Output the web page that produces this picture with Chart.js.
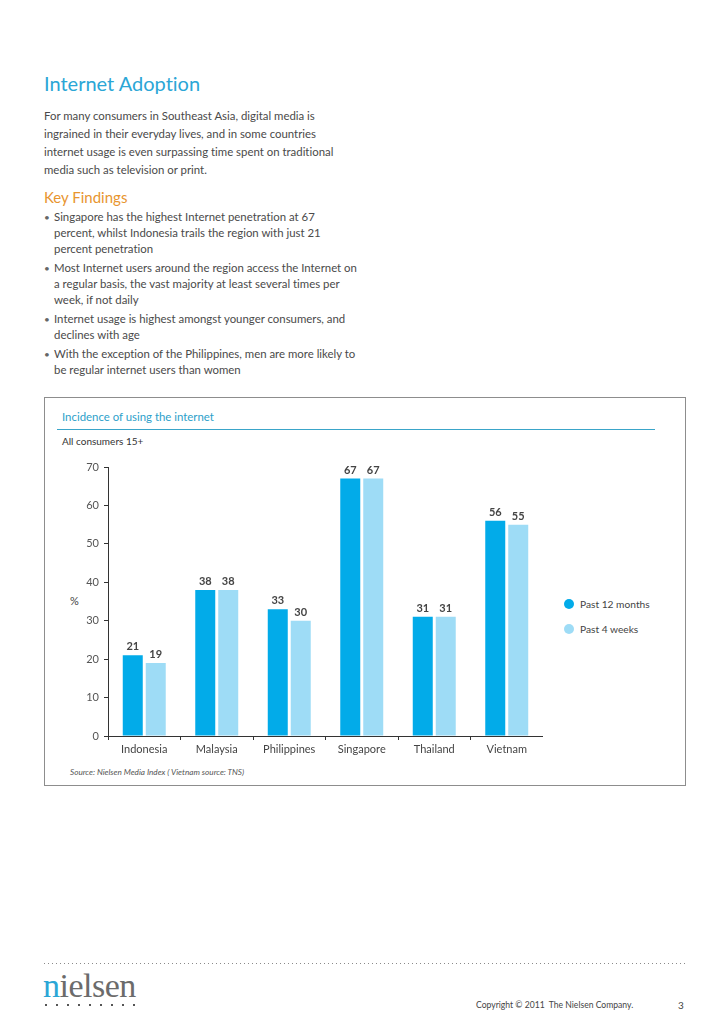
<!DOCTYPE html>
<html>
<head>
<meta charset="utf-8">
<script src="https://cdn.jsdelivr.net/npm/chart.js@4.4.0/dist/chart.umd.min.js"></script>
<style>
  html, body { margin:0; padding:0; background:#fff; }
  body { width:728px; height:1030px; position:relative; overflow:hidden; font-family: Lato, "Open Sans", sans-serif; color:#4a4a4a; font-variant-ligatures:none; }
  .abs { position:absolute; white-space:nowrap; }
  #title { left:44px; top:70px; font-size:20px; line-height:26px; color:#2ba6d6; }
  #intro { left:44px; top:107px; font-size:11.4px; line-height:18px; }
  #kf { left:44px; top:187px; font-size:15px; line-height:20px; color:#e8952f; }
  #bullets { left:44px; top:209px; font-size:11.4px; line-height:16px; margin:0; padding:0; list-style:none; }
  #bullets li { position:relative; padding-left:10px; margin-bottom:3px; }
  #bullets li:before { content:"•"; position:absolute; left:0; top:0; color:#666; font-size:10px; }
  #box { left:44px; top:397px; width:640px; height:387px; border:1px solid #8d8d8d; }
  #ctitle { left:62px; top:409px; font-size:11.4px; line-height:16px; color:#2d9fca; }
  #cline { left:57px; top:429px; width:598px; height:0; border-top:1.5px solid #3aa5c9; }
  #csub { left:62px; top:434px; font-size:10px; line-height:14px; color:#333; }
  #pct { left:70px; top:594px; font-size:11px; line-height:14px; color:#444; }
  #legend { left:563px; top:597px; font-size:10.2px; color:#444; }
  #legend div { height:25px; line-height:14px; position:relative; padding-left:17px; }
  #legend span.dot { position:absolute; left:1px; top:2px; width:10px; height:10px; border-radius:50%; }
  #source { left:70px; top:766px; font-size:8.2px; line-height:12px; font-style:italic; color:#555; }
  #chartwrap { left:44px; top:450px; width:499px; height:315px; }
  #dots { left:44px; top:963px; width:642px; height:1px; background:repeating-linear-gradient(to right,#8a8a8a 0 1px,transparent 1px 4px); }
  #logo { left:43px; top:967px; font-family:"Liberation Serif","DejaVu Serif",serif; font-size:34px; line-height:38px; color:#6b6b6b; letter-spacing:-0.5px; }
  #logo b { font-weight:normal; color:#2ba6d6; }
  #logodots { left:45px; top:1004px; width:92px; height:2px; background:repeating-linear-gradient(to right,#555 0 2px,transparent 2px 11px); }
  #copy { left:476px; top:999px; font-size:8.6px; line-height:12px; color:#444; }
  #page { left:678px; top:999px; font-size:10px; line-height:12px; color:#444; }
</style>
</head>
<body>
<div id="title" class="abs">Internet Adoption</div>
<div id="intro" class="abs">For many consumers in Southeast Asia, digital media is<br>ingrained in their everyday lives, and in some countries<br>internet usage is even surpassing time spent on traditional<br>media such as television or print.</div>
<div id="kf" class="abs">Key Findings</div>
<ul id="bullets" class="abs">
  <li>Singapore has the highest Internet penetration at 67<br>percent, whilst Indonesia trails the region with just 21<br>percent penetration</li>
  <li>Most Internet users around the region access the Internet on<br>a regular basis, the vast majority at least several times per<br>week, if not daily</li>
  <li>Internet usage is highest amongst younger consumers, and<br>declines with age</li>
  <li>With the exception of the Philippines, men are more likely to<br>be regular internet users than women</li>
</ul>

<div id="box" class="abs"></div>
<div id="ctitle" class="abs">Incidence of using the internet</div>
<div id="cline" class="abs"></div>
<div id="csub" class="abs">All consumers 15+</div>
<div id="pct" class="abs">%</div>
<div id="chartwrap" class="abs"><canvas id="c" width="499" height="315"></canvas></div>
<div id="legend" class="abs"></div>
<div id="source" class="abs">Source: Nielsen Media Index ( Vietnam source: TNS)</div>

<div id="dots" class="abs"></div>
<div id="logo" class="abs"><b>n</b>ielsen</div>
<div id="logodots" class="abs"></div>
<div id="copy" class="abs">Copyright © 2011 &nbsp;The Nielsen Company.</div>
<div id="page" class="abs">3</div>

<script>
const categories = ["Indonesia", "Malaysia", "Philippines", "Singapore", "Thailand", "Vietnam"];
const past12Months = [21, 38, 33, 67, 31, 56];
const past4Weeks = [19, 38, 30, 67, 31, 55];
const seriesLabels = ["Past 12 months", "Past 4 weeks"];
const seriesColors = ["#02abe9", "#9edcf6"];
const yTicks = [0, 10, 20, 30, 40, 50, 60, 70];

const valueLabels = {
  id: 'valueLabels',
  afterDatasetsDraw(chart) {
    const ctx = chart.ctx;
    ctx.save();
    ctx.font = 'bold 11px Lato, "Open Sans", sans-serif';
    ctx.fillStyle = '#444';
    ctx.textAlign = 'center';
    ctx.textBaseline = 'bottom';
    chart.data.datasets.forEach((ds, i) => {
      chart.getDatasetMeta(i).data.forEach((bar, j) => {
        ctx.fillText(String(ds.data[j]), bar.x, bar.y - 3);
      });
    });
    ctx.restore();
  }
};

const chart = new Chart(document.getElementById('c'), {
  type: 'bar',
  data: {
    labels: categories,
    datasets: [
      { label: seriesLabels[0], data: past12Months, backgroundColor: seriesColors[0], categoryPercentage: 0.634, barPercentage: 0.87 },
      { label: seriesLabels[1], data: past4Weeks, backgroundColor: seriesColors[1], categoryPercentage: 0.634, barPercentage: 0.87 }
    ]
  },
  options: {
    responsive: false,
    animation: false,
    devicePixelRatio: 1,
    layout: { padding: { top: 17, right: 0, bottom: 0, left: 0 } },
    plugins: { legend: { display: false }, tooltip: { enabled: false } },
    scales: {
      x: {
        afterFit(s) { s.height = 29; s.paddingRight = 0; s.paddingLeft = 0; },
        grid: { display: true, offset: true, drawOnChartArea: false, drawTicks: true, tickLength: 4, color: '#333' },
        border: { display: true, color: '#333', width: 1 },
        ticks: { color: '#444', font: { size: 11, family: 'Lato, "Open Sans", sans-serif' }, padding: 3 }
      },
      y: {
        min: 0, max: 70,
        afterFit(s) { s.width = 64; },
        afterBuildTicks(s) { s.ticks = yTicks.map(v => ({ value: v })); },
        grid: { display: true, drawOnChartArea: false, drawTicks: true, tickLength: 4, color: '#333' },
        border: { display: true, color: '#333', width: 1 },
        ticks: { color: '#555', font: { size: 11, family: 'Lato, "Open Sans", sans-serif' }, padding: 5 }
      }
    }
  },
  plugins: [valueLabels]
});

const lg = document.getElementById('legend');
chart.data.datasets.forEach(ds => {
  const d = document.createElement('div');
  d.innerHTML = '<span class="dot" style="background:' + ds.backgroundColor + '"></span>' + ds.label;
  lg.appendChild(d);
});
</script>
</body>
</html>
